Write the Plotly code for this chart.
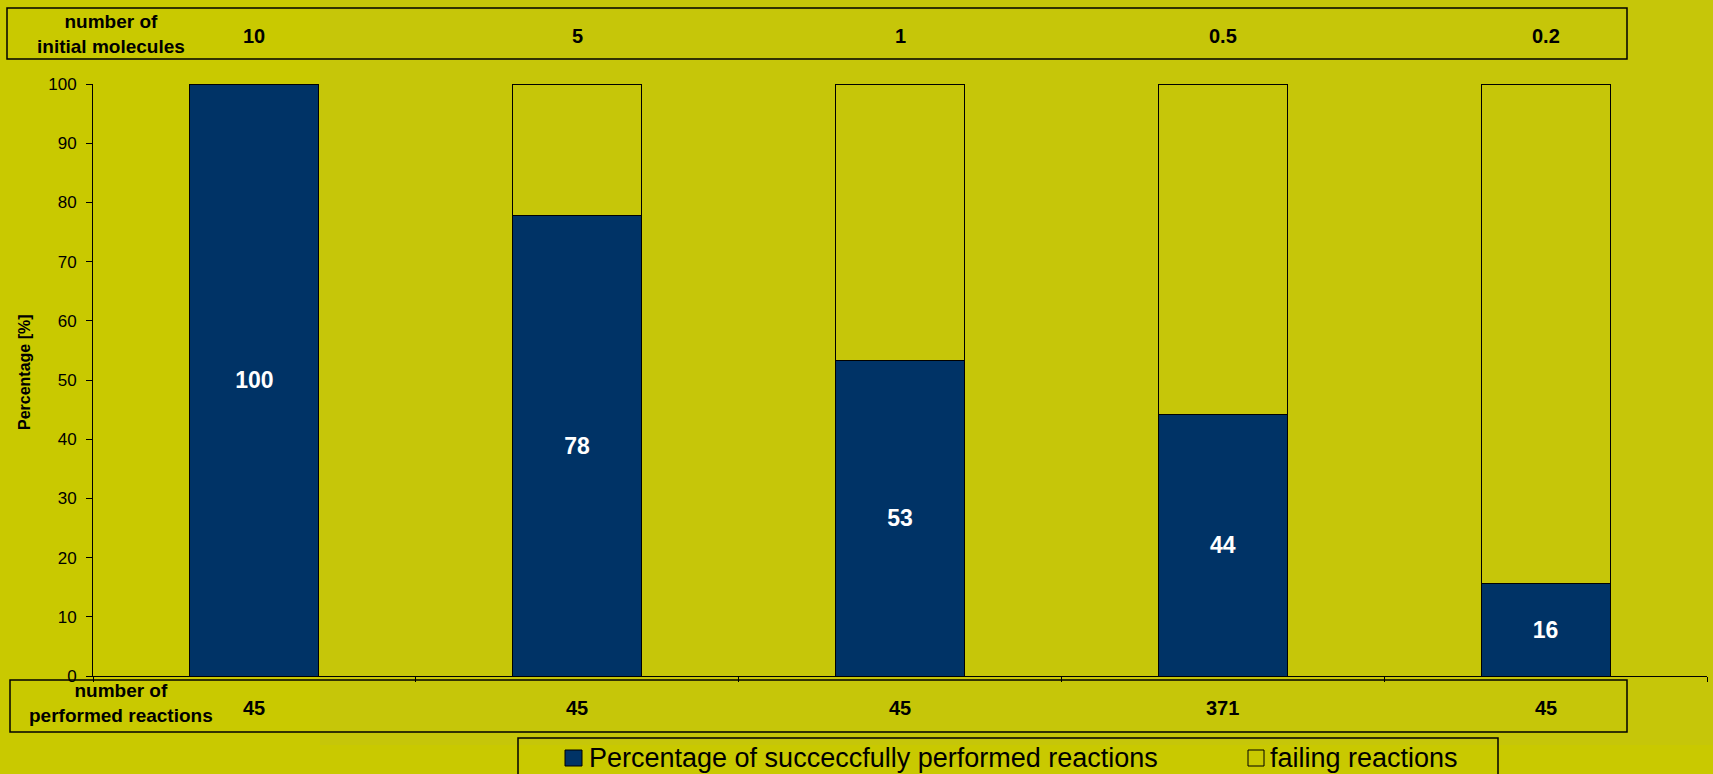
import plotly.graph_objects as go

# ---- data ----
initial_molecules = ["10", "5", "1", "0.5", "0.2"]
performed_reactions = ["45", "45", "45", "371", "45"]
success_pct = [100, 77.8, 53.3, 44.2, 15.6]
failing_pct = [100 - v for v in success_pct]
success_name = "Percentage of succeccfully performed reactions"
failing_name = "failing reactions"

# ---- layout geometry (pixels) ----
WIDTH, HEIGHT = 1713, 774
L, R, T, B = 93, 1707, 84, 676
PW, PH = R - L, B - T


def px(x):
    return (x - L) / PW


def py(y):
    return (B - y) / PH


NAVY = "#003366"
PAPER = "#C9C900"
FONT = "Liberation Sans, Arial, sans-serif"

cats = list(range(len(initial_molecules)))

fig = go.Figure()
fig.add_trace(go.Bar(
    x=cats, y=success_pct, name=success_name,
    marker=dict(color=NAVY, line=dict(color="black", width=1)),
    text=[f"{v:.0f}" for v in success_pct], textposition="inside",
    insidetextanchor="middle",
    textfont=dict(color="white", size=23, family=FONT, weight="bold"),
    width=0.4, showlegend=False,
))
fig.add_trace(go.Bar(
    x=cats, y=failing_pct, name=failing_name,
    marker=dict(color="rgba(0,0,0,0)", line=dict(color="black", width=1)),
    width=0.4, showlegend=False, textposition="none",
))

shapes = []
annotations = []

# subtle photo-like background region
shapes.append(dict(type="rect", xref="paper", yref="paper",
                   x0=px(320), x1=px(1713), y0=py(745), y1=py(0),
                   fillcolor="rgba(185,185,40,0.22)", line=dict(width=0), layer="below"))

# top box (initial molecules)
shapes.append(dict(type="rect", xref="paper", yref="paper",
                   x0=px(7), x1=px(1627), y0=py(59), y1=py(8),
                   line=dict(color="black", width=1.5), fillcolor="rgba(0,0,0,0)"))
# bottom box (performed reactions)
shapes.append(dict(type="rect", xref="paper", yref="paper",
                   x0=px(10), x1=px(1627), y0=py(732), y1=py(680),
                   line=dict(color="black", width=1.5), fillcolor="rgba(0,0,0,0)"))
# legend box
shapes.append(dict(type="rect", xref="paper", yref="paper",
                   x0=px(518), x1=px(1498), y0=py(800), y1=py(738),
                   line=dict(color="black", width=1.5), fillcolor="rgba(0,0,0,0)"))
# legend swatches
shapes.append(dict(type="rect", xref="paper", yref="paper",
                   x0=px(565), x1=px(582), y0=py(766), y1=py(750),
                   line=dict(color="black", width=1), fillcolor=NAVY))
shapes.append(dict(type="rect", xref="paper", yref="paper",
                   x0=px(1248), x1=px(1264), y0=py(766), y1=py(750),
                   line=dict(color="black", width=1), fillcolor="rgba(0,0,0,0)"))

annotations.append(dict(xref="paper", yref="paper", x=px(587), y=py(758),
                        text=success_name, showarrow=False, xanchor="left", yanchor="middle",
                        font=dict(size=27, family=FONT, color="black")))
annotations.append(dict(xref="paper", yref="paper", x=px(1268), y=py(758),
                        text=failing_name, showarrow=False, xanchor="left", yanchor="middle",
                        font=dict(size=27, family=FONT, color="black")))

# row headers
annotations.append(dict(xref="paper", yref="paper", x=px(111), y=py(34),
                        text="<b>number of<br>initial molecules</b>", showarrow=False,
                        xanchor="center", yanchor="middle", align="center",
                        font=dict(size=19, family=FONT, color="black")))
annotations.append(dict(xref="paper", yref="paper", x=px(121), y=py(703),
                        text="<b>number of<br>performed reactions</b>", showarrow=False,
                        xanchor="center", yanchor="middle", align="center",
                        font=dict(size=19, family=FONT, color="black")))

for i, (top, bot) in enumerate(zip(initial_molecules, performed_reactions)):
    annotations.append(dict(xref="x", yref="paper", x=i, y=py(36),
                            text=f"<b>{top}</b>", showarrow=False,
                            xanchor="center", yanchor="middle",
                            font=dict(size=20, family=FONT, color="black")))
    annotations.append(dict(xref="x", yref="paper", x=i, y=py(708),
                            text=f"<b>{bot}</b>", showarrow=False,
                            xanchor="center", yanchor="middle",
                            font=dict(size=20, family=FONT, color="black")))

# y-axis title
annotations.append(dict(xref="paper", yref="paper", x=px(24), y=py(372),
                        text="<b>Percentage [%]</b>", showarrow=False, textangle=-90,
                        xanchor="center", yanchor="middle",
                        font=dict(size=16, family=FONT, color="black")))

fig.update_layout(
    width=WIDTH, height=HEIGHT,
    margin=dict(l=L, r=WIDTH - R, t=T, b=HEIGHT - B, autoexpand=False),
    paper_bgcolor=PAPER, plot_bgcolor="rgba(0,0,0,0)",
    barmode="stack", bargap=0.6,
    showlegend=False,
    shapes=shapes, annotations=annotations,
    font=dict(family=FONT, color="black"),
    xaxis=dict(type="category", range=[-0.5, 4.5], showticklabels=False,
               tickmode="array", tickvals=cats, tickson="boundaries",
               ticks="outside", ticklen=5, tickcolor="black",
               showline=True, linecolor="black", linewidth=1,
               showgrid=False, zeroline=False, fixedrange=True),
    yaxis=dict(range=[0, 100], tick0=0, dtick=10, ticks="outside", ticklen=6,
               tickcolor="black", showline=True, linecolor="black", linewidth=1,
               showgrid=False, zeroline=False, ticklabelstandoff=6,
               tickfont=dict(size=17, family=FONT, color="black"), fixedrange=True),
)

fig.write_html("out.html")
